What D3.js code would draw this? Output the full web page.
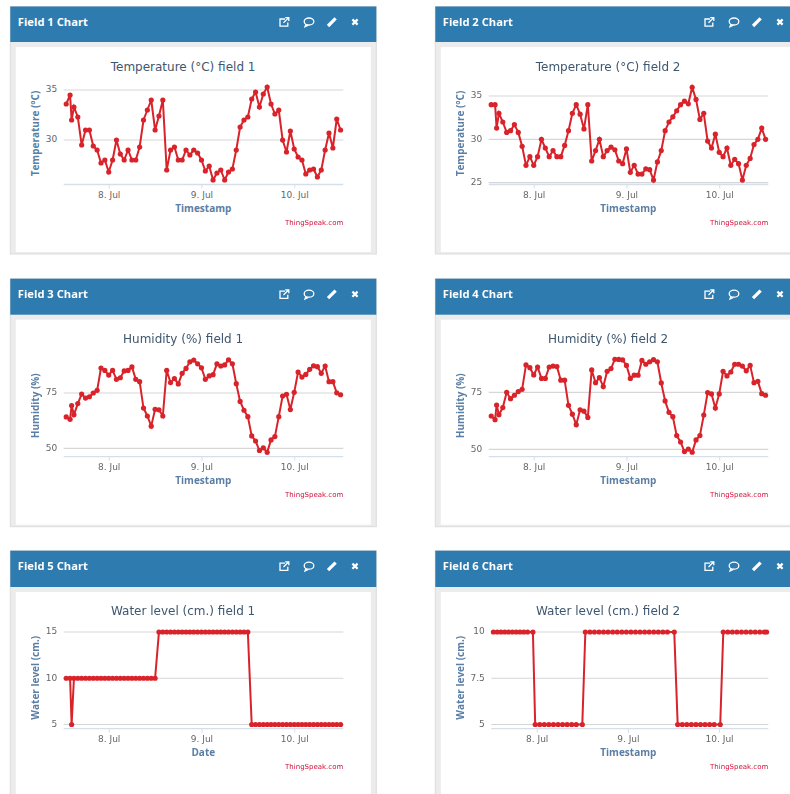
<!DOCTYPE html>
<html>
<head>
<meta charset="utf-8">
<title>Field charts</title>
<script src="https://cdn.jsdelivr.net/npm/d3@7"></script>
<style>
    html, body { margin: 0; padding: 0; background: white; overflow: hidden; }
    svg { display: block; filter: blur(0.4px); }
    .chartTitle { font-family: "DejaVu Sans", sans-serif; font-size: 12px; fill: #3e576f; text-anchor: middle; }
    .axisTitle { font-family: "Open Sans", sans-serif; font-size: 10px; font-weight: 700; fill: #5a7ea4; text-anchor: middle; }
    .tick text { font-family: "DejaVu Sans", sans-serif; font-size: 9px; fill: #666; }
    .credit { font-family: "DejaVu Sans", sans-serif; font-size: 7px; fill: #d4103a; text-anchor: end; }
    .panelTitle { font-family: "Open Sans", sans-serif; font-size: 11.2px; font-weight: 700; fill: white; }
</style>
</head>
<body>
<div id="charts"></div>
<script>

// hours since 7 Jul 00:00, fields 1-5 share the same timestamps
const hours = [13, 14, 14.4, 15, 16, 17, 18, 19, 20, 21, 22, 23, 24, 25, 26, 27, 28, 29, 30, 31, 32, 33, 34, 35, 36,
    37, 38, 39, 40, 41, 42, 43, 44, 45, 46, 47, 48, 49, 50, 51, 52, 53, 54, 55, 56, 57, 58, 59, 60, 61,
    62, 63, 64, 65, 66, 67, 68, 69, 70, 71, 72, 73, 74, 75, 76, 77, 78, 79, 80, 81, 82, 83, 84];

const hoursField6 = [12.6, 13.6, 14.6, 15.6, 16.6, 17.6, 18.6, 19.6, 20.6, 21.6, 23, 23.6, 24.8, 26, 27.2, 28.4, 29.6, 30.8, 32, 33.2, 34.4, 36,
    36.8, 38, 39.2, 40.4, 41.6, 42.8, 44, 45.2, 46.4, 47.6, 48.8, 50, 51.2, 52.4, 53.6, 54.8, 56, 57.2, 58.4, 60.2,
    61.1, 62.3, 63.5, 64.7, 65.9, 67.1, 68.3, 69.5, 70.7, 72.3,
    73.1, 74.3, 75.5, 76.7, 77.9, 79.1, 80.3, 81.5, 82.7, 83.9, 84.5];

const temperature1 = [33.6, 34.5, 32, 33.3, 32.3, 29.5, 31, 31, 29.4, 29, 27.7, 28, 26.8, 28, 30, 28.6, 28, 29, 28, 28, 29.3, 32, 33, 34, 31,
    32.4, 34, 27, 29, 29.3, 28, 28, 29, 28.5, 29, 28.7, 28, 26.9, 27.4, 26, 26.7, 27, 26, 26.8, 27.1, 29, 31.3, 32, 32.3, 34.1,
    34.8, 33.3, 34.6, 35.3, 33.6, 32.6, 33, 30, 28.8, 30.9, 29.1, 28.3, 28, 26.6, 27, 27.1, 26.3, 27, 29, 30.7, 29.2, 32.1, 31];

const temperature2 = [34, 34, 31.3, 33, 32, 30.8, 31, 31.7, 30.8, 29.2, 27, 28, 27, 28, 30, 29, 28, 28.7, 28, 28, 29.3, 31, 33, 34, 32.9,
    31.2, 34, 27.5, 28.7, 30, 28, 28.7, 29.1, 28.8, 27.5, 27.2, 28.9, 26.2, 27, 26, 26, 26.6, 26.5, 25.3, 27.4, 28.7, 31, 32, 32.6, 33.3,
    34, 34.4, 34.1, 36, 34.6, 32.3, 33, 29.8, 29, 30.6, 28.5, 28, 29, 27, 27.7, 27.2, 25.3, 27, 27.8, 29.4, 30, 31.3, 30];

const humidity1 = [64.2, 63.1, 69.3, 65.2, 70.2, 74.5, 72.7, 73.3, 75, 76.2, 86.3, 85.2, 83.1, 85.2, 81.2, 81.9, 85, 85.2, 86.8, 81.2, 80.1, 68.2, 64.6, 60, 67.6,
    67.4, 64.6, 85.2, 79.7, 81.5, 79.1, 83.9, 86.1, 89.1, 89.9, 88.2, 86.4, 81.2, 82.7, 83.3, 88.2, 87.2, 87.7, 90, 88.2, 79.2, 71.2, 67.2, 64.3, 55.6,
    53.3, 49, 50.2, 48.2, 53.8, 55.3, 64.3, 73.6, 74.4, 67.5, 75.3, 84.5, 82.2, 83.4, 85.7, 87.3, 86.9, 83.9, 87.2, 80.1, 80.1, 75.1, 74.2];

const humidity2 = [64.6, 63, 69.4, 65.2, 68.3, 75, 72.2, 73.7, 75.3, 76.3, 87, 85.8, 82.6, 86.1, 81.1, 81.1, 86.1, 86.5, 86.3, 80.3, 80.3, 69.3, 65.4, 60.8, 67.3,
    66.7, 64, 84.8, 79.2, 81.4, 77.5, 84.2, 85.4, 89.5, 89.4, 89.2, 86.8, 81.1, 82.5, 82.5, 89, 87.3, 88.4, 89.3, 88.4, 79.1, 71.2, 66.2, 64.3, 56,
    53.2, 49, 50.1, 48.7, 54.1, 56, 65, 74.9, 74.3, 68.1, 74.3, 84.2, 82.2, 83.9, 87.3, 87.3, 86.5, 84.4, 86.8, 79.2, 79.8, 74.4, 73.7];

const water1 = [10, 10, 5, 10, 10, 10, 10, 10, 10, 10, 10, 10, 10, 10, 10, 10, 10, 10, 10, 10, 10, 10, 10, 10, 10,
    15, 15, 15, 15, 15, 15, 15, 15, 15, 15, 15, 15, 15, 15, 15, 15, 15, 15, 15, 15, 15, 15, 15, 15,
    5, 5, 5, 5, 5, 5, 5, 5, 5, 5, 5, 5, 5, 5, 5, 5, 5, 5, 5, 5, 5, 5, 5, 5];

const water2 = [10, 10, 10, 10, 10, 10, 10, 10, 10, 10, 10,
    5, 5, 5, 5, 5, 5, 5, 5, 5, 5, 5,
    10, 10, 10, 10, 10, 10, 10, 10, 10, 10, 10, 10, 10, 10, 10, 10, 10, 10, 10, 10,
    5, 5, 5, 5, 5, 5, 5, 5, 5, 5,
    10, 10, 10, 10, 10, 10, 10, 10, 10, 10, 10];

const panelNames = ["Field 1 Chart", "Field 2 Chart", "Field 3 Chart", "Field 4 Chart", "Field 5 Chart", "Field 6 Chart"];
const chartTitles = ["Temperature (°C) field 1", "Temperature (°C) field 2", "Humidity (%) field 1", "Humidity (%) field 2", "Water level (cm.) field 1", "Water level (cm.) field 2"];
const yLabels = ["Temperature (°C)", "Temperature (°C)", "Humidity (%)", "Humidity (%)", "Water level (cm.)", "Water level (cm.)"];
const xLabels = ["Timestamp", "Timestamp", "Timestamp", "Timestamp", "Date", "Timestamp"];
const yTicks = [[30, 35], [25, 30, 35], [50, 75], [50, 75], [5, 10, 15], [5, 7.5, 10]];
const xTickDays = [8, 9, 10];

const seriesValues = [temperature1, temperature2, humidity1, humidity2, water1, water2];
const seriesHours = [hours, hours, hours, hours, hours, hoursField6];

// pixel layout, kept apart from the data
const columnX = [10.3, 435.3];
const rowY = [6.5, 278.7, 550.7];
const panelWidth = 366;
const headerHeight = [35.5, 36, 36.3];
const bodyBottom = [254, 526.7, 810];
// y scale anchors: two values and the pixel rows they sit on
const yAnchors = [
    {domain: [30, 35], range: [140, 90]},
    {domain: [25, 35], range: [182.7, 96]},
    {domain: [50, 75], range: [448.3, 393]},
    {domain: [50, 75], range: [449.3, 392.3]},
    {domain: [5, 15], range: [724.5, 632]},
    {domain: [5, 10], range: [724.5, 632]}
];
const xDomains = [[12.35, 84.7], [12.35, 84.7], [12.35, 84.7], [12.35, 84.7], [12.35, 84.7], [12.05, 84.95]];
const plotLeftOffset = [53.4, 53.4, 53.4, 53.4, 53.4, 56];

const toDate = h => new Date(Date.UTC(2019, 6, 7) + h * 3600000);

class FieldChart {

    constructor(svg, index) {
        this.svg = svg;
        this.index = index;
        this.initVis();
    }

    initVis() {
        let vis = this;

        let col = vis.index % 2, row = Math.floor(vis.index / 2);
        vis.x0 = columnX[col];
        vis.y0 = rowY[row];
        vis.g = vis.svg.append("g");

        // panel frame and blue header
        vis.g.append("rect")
            .attr("x", vis.x0).attr("y", vis.y0)
            .attr("width", panelWidth).attr("height", bodyBottom[row] - vis.y0)
            .attr("fill", "#ececec").attr("stroke", "#dcdcdc");
        vis.g.append("rect")
            .attr("x", vis.x0 + 5.5).attr("y", vis.y0 + headerHeight[row] + 5)
            .attr("width", panelWidth - 11).attr("height", bodyBottom[row] - vis.y0 - headerHeight[row] - 7)
            .attr("fill", "white");
        vis.g.append("rect")
            .attr("x", vis.x0).attr("y", vis.y0)
            .attr("width", panelWidth).attr("height", headerHeight[row])
            .attr("fill", "#2e7bb0");
        vis.g.append("text")
            .attr("class", "panelTitle")
            .attr("x", vis.x0 + 7.5).attr("y", vis.y0 + 19)
            .text(panelNames[vis.index]);
        vis.drawIcons();

        // scales
        vis.plotLeft = vis.x0 + plotLeftOffset[vis.index];
        vis.plotRight = vis.x0 + 333;
        vis.plotBottom = vis.y0 + 178;

        vis.xScale = d3.scaleUtc()
            .domain(xDomains[vis.index].map(toDate))
            .range([vis.plotLeft, vis.plotRight]);
        vis.yScale = d3.scaleLinear()
            .domain(yAnchors[vis.index].domain)
            .range(yAnchors[vis.index].range);

        // gridlines
        vis.g.selectAll(".grid")
            .data(yTicks[vis.index])
            .enter()
            .append("line")
            .attr("class", "grid")
            .attr("x1", vis.plotLeft).attr("x2", vis.plotRight)
            .attr("y1", d => vis.yScale(d)).attr("y2", d => vis.yScale(d))
            .attr("stroke", "#d6d6d6")
            .attr("stroke-width", 1.2);

        // y axis, labels only
        vis.g.append("g")
            .attr("transform", `translate(${vis.plotLeft - 0.5}, -1)`)
            .call(d3.axisLeft(vis.yScale).tickValues(yTicks[vis.index]).tickSize(0).tickPadding(6).tickFormat(d => d))
            .call(g => g.select(".domain").remove());

        // x axis
        let xAxis = d3.axisBottom(vis.xScale)
            .tickValues(xTickDays.map(d => new Date(Date.UTC(2019, 6, d))))
            .tickFormat(d3.utcFormat("%-d. %b"))
            .tickSize(4)
            .tickPadding(3);
        vis.g.append("g")
            .attr("transform", `translate(0, ${vis.plotBottom})`)
            .call(xAxis)
            .call(g => g.select(".domain").attr("stroke", "#d5dfea").attr("stroke-width", 1.3).attr("d", `M${vis.plotLeft},0H${vis.plotRight}`))
            .call(g => g.selectAll(".tick line").attr("stroke", "#d5dfea"));

        // titles
        let centerX = vis.x0 + 172.8;
        vis.g.append("text")
            .attr("class", "chartTitle")
            .attr("x", centerX).attr("y", vis.y0 + 64.5)
            .text(chartTitles[vis.index]);
        vis.g.append("text")
            .attr("class", "axisTitle")
            .attr("x", vis.x0 + 193).attr("y", vis.y0 + 205.5)
            .text(xLabels[vis.index]);
        vis.g.append("text")
            .attr("class", "axisTitle")
            .attr("transform", `translate(${vis.x0 + 28.5}, ${vis.y0 + 127}) rotate(-90)`)
            .text(yLabels[vis.index]);
        vis.g.append("text")
            .attr("class", "credit")
            .attr("x", vis.plotRight).attr("y", vis.y0 + 218.5)
            .text("ThingSpeak.com");

        vis.updateVis();
    }

    drawIcons() {
        let vis = this;
        let iconY = vis.y0 + 15.5;
        let icons = vis.g.append("g").attr("fill", "none").attr("stroke", "white").attr("stroke-width", 1.3);

        // external link
        icons.append("path")
            .attr("transform", `translate(${vis.x0 + 273.7}, ${iconY})`)
            .attr("d", "M1,-3H-4V4.2H3.8V0.5M-0.5,0.8L4.2,-3.9M1.2,-4.4H4.8V-0.9");
        // comment bubble
        icons.append("ellipse")
            .attr("cx", vis.x0 + 298.7).attr("cy", iconY - 0.5)
            .attr("rx", 4.8).attr("ry", 3.5);
        icons.append("path")
            .attr("d", `M${vis.x0 + 295.7},${iconY + 2}L${vis.x0 + 294.7},${iconY + 4.7}L${vis.x0 + 298},${iconY + 3.1}`);
        // pencil
        icons.append("path")
            .attr("transform", `translate(${vis.x0 + 321.7}, ${iconY})`)
            .attr("d", "M-4,4L3.6,-3.6")
            .attr("stroke-width", 3.2);
        // cross
        icons.append("path")
            .attr("transform", `translate(${vis.x0 + 344.7}, ${iconY})`)
            .attr("d", "M-2.6,-2.6L2.6,2.6M2.6,-2.6L-2.6,2.6")
            .attr("stroke-width", 2.2);
    }

    updateVis() {
        let vis = this;

        let points = seriesValues[vis.index].map((v, i) => ({date: toDate(seriesHours[vis.index][i]), value: v}));

        let line = d3.line()
            .x(d => vis.xScale(d.date))
            .y(d => vis.yScale(d.value));

        vis.g.append("path")
            .datum(points)
            .attr("fill", "none")
            .attr("stroke", "#d9232b")
            .attr("stroke-width", 2)
            .attr("d", line);

        vis.g.selectAll(".dot")
            .data(points)
            .enter()
            .append("circle")
            .attr("class", "dot")
            .attr("cx", d => vis.xScale(d.date))
            .attr("cy", d => vis.yScale(d.value))
            .attr("r", 2.6)
            .attr("fill", "#d9232b");
    }
}

let svg = d3.select("#charts").append("svg")
    .attr("width", 790)
    .attr("height", 794);

panelNames.forEach((name, i) => new FieldChart(svg, i));

</script>
</body>
</html>
